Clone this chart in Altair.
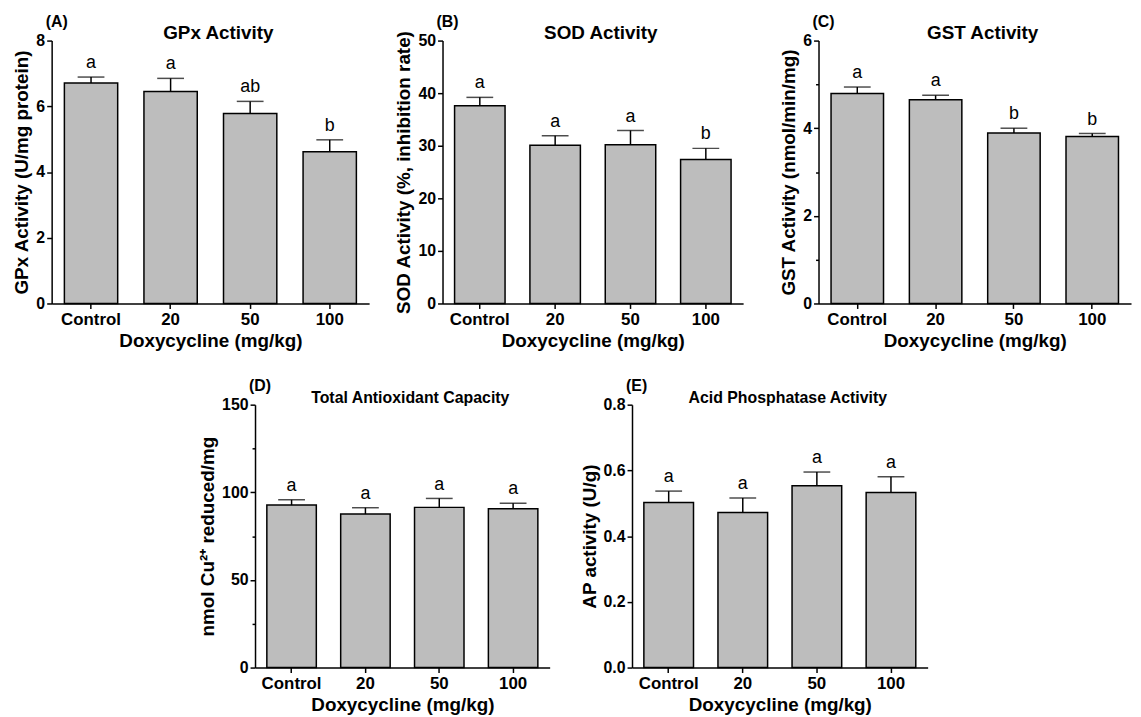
import altair as alt
import pandas as pd

groups = ["Control", "20", "50", "100"]

gpx_mean = [6.71, 6.45, 5.78, 4.62]
gpx_err = [0.18, 0.40, 0.37, 0.36]
gpx_letters = ["a", "a", "ab", "b"]

sod_mean = [37.6, 30.1, 30.2, 27.4]
sod_err = [1.6, 1.8, 2.7, 2.1]
sod_letters = ["a", "a", "a", "b"]

gst_mean = [4.79, 4.65, 3.89, 3.81]
gst_err = [0.15, 0.10, 0.11, 0.07]
gst_letters = ["a", "a", "b", "b"]

tac_mean = [92.7, 87.6, 91.4, 90.6]
tac_err = [3.0, 3.6, 5.1, 3.2]
tac_letters = ["a", "a", "a", "a"]

ap_mean = [0.502, 0.472, 0.553, 0.533]
ap_err = [0.035, 0.044, 0.042, 0.048]
ap_letters = ["a", "a", "a", "a"]

FONT = "Liberation Sans"
H = 265


def panel(label, title, ytitle, means, errs, letters, ymax, step, major,
          fmt, width, title_size):
    df = pd.DataFrame({
        "group": groups,
        "mean": means,
        "upper": [m + e for m, e in zip(means, errs)],
        "letter": letters,
    })
    n = int(round(ymax / step))
    ticks = [round(i * step, 4) for i in range(n + 1)]
    k = int(round(major / step))
    test = f"round(datum.value / {step}) % {k} === 0"
    x = alt.X("group:N", sort=groups,
              scale=alt.Scale(paddingInner=0.33, paddingOuter=0.16),
              axis=alt.Axis(title="Doxycycline (mg/kg)", labelAngle=0,
                            tickSize=5, labelFont=FONT, labelFontSize=17,
                            labelFontWeight="bold", labelColor="black",
                            labelPadding=3, titlePadding=4,
                            titleFont=FONT, titleFontSize=19,
                            titleFontWeight="bold", titleColor="black"))
    yscale = alt.Scale(domain=[0, ymax], nice=False)
    yaxis = alt.Axis(title=ytitle, values=ticks, format=fmt,
                     labelExpr=f"{test} ? datum.label : ''",
                     tickSize={"condition": {"test": test, "value": 5},
                               "value": 3},
                     labelFont=FONT, labelFontSize=16, labelFontWeight="bold",
                     labelColor="black", labelPadding=2, titlePadding=4,
                     titleFont=FONT, titleFontSize=19, titleFontWeight="bold",
                     titleColor="black")
    base = alt.Chart(df)
    bars = base.mark_bar(fill="#bdbdbd", stroke="black", strokeWidth=1.5).encode(
        x=x, y=alt.Y("mean:Q", scale=yscale, axis=yaxis))
    rule = base.mark_rule(color="black", strokeWidth=1.5).encode(
        x=alt.X("group:N", sort=groups), y="mean:Q", y2="upper:Q")
    cap = base.mark_tick(color="black", thickness=1.5, size=27).encode(
        x=alt.X("group:N", sort=groups), y="upper:Q")
    let = base.mark_text(font=FONT, fontSize=18, baseline="alphabetic",
                         dy=-9, color="black").encode(
        x=alt.X("group:N", sort=groups), y="upper:Q", text="letter:N")
    tdf = pd.DataFrame({"t": [title], "l": [label]})
    ttl = alt.Chart(tdf).mark_text(font=FONT, fontSize=title_size,
                                   fontWeight="bold", baseline="alphabetic",
                                   align="center", color="black").encode(
        x=alt.value(width / 2 + 8), y=alt.value(-2), text="t:N")
    lab = alt.Chart(tdf).mark_text(font=FONT, fontSize=16, fontWeight="bold",
                                   baseline="middle", align="left",
                                   color="black").encode(
        x=alt.value(-6), y=alt.value(-19), text="l:N")
    return alt.layer(bars, rule, cap, let, ttl, lab).properties(
        width=width, height=H)


pA = panel("(A)", "GPx Activity", "GPx Activity (U/mg protein)",
           gpx_mean, gpx_err, gpx_letters, 8, 1, 2, "d", 320, 19)
pB = panel("(B)", "SOD Activity", "SOD Activity (%, inhibition rate)",
           sod_mean, sod_err, sod_letters, 50, 5, 10, "d", 303, 19)
pC = panel("(C)", "GST Activity", "GST Activity (nmol/min/mg)",
           gst_mean, gst_err, gst_letters, 6, 1, 2, "d", 315, 19)
pD = panel("(D)", "Total Antioxidant Capacity", "nmol Cu²⁺ reduced/mg",
           tac_mean, tac_err, tac_letters, 150, 25, 50, "d", 297, 16)
pE = panel("(E)", "Acid Phosphatase Activity", "AP activity (U/g)",
           ap_mean, ap_err, ap_letters, 0.8, 0.1, 0.2, ".1f", 298, 16)

row1 = alt.hconcat(alt.hconcat(pA, pB, spacing=26), pC, spacing=37)
row2 = alt.hconcat(pD, pE, spacing=30)

chart = alt.vconcat(row1, row2, spacing=28, center=True).properties(
    padding={"left": 5, "top": 3, "right": 2, "bottom": 2}
).configure_view(stroke=None).configure_axis(
    grid=False,
    domainColor="black", domainWidth=1.5,
    tickColor="black", tickWidth=1.5,
)

chart.save("out.html", embed_options={"renderer": "svg", "actions": False})
